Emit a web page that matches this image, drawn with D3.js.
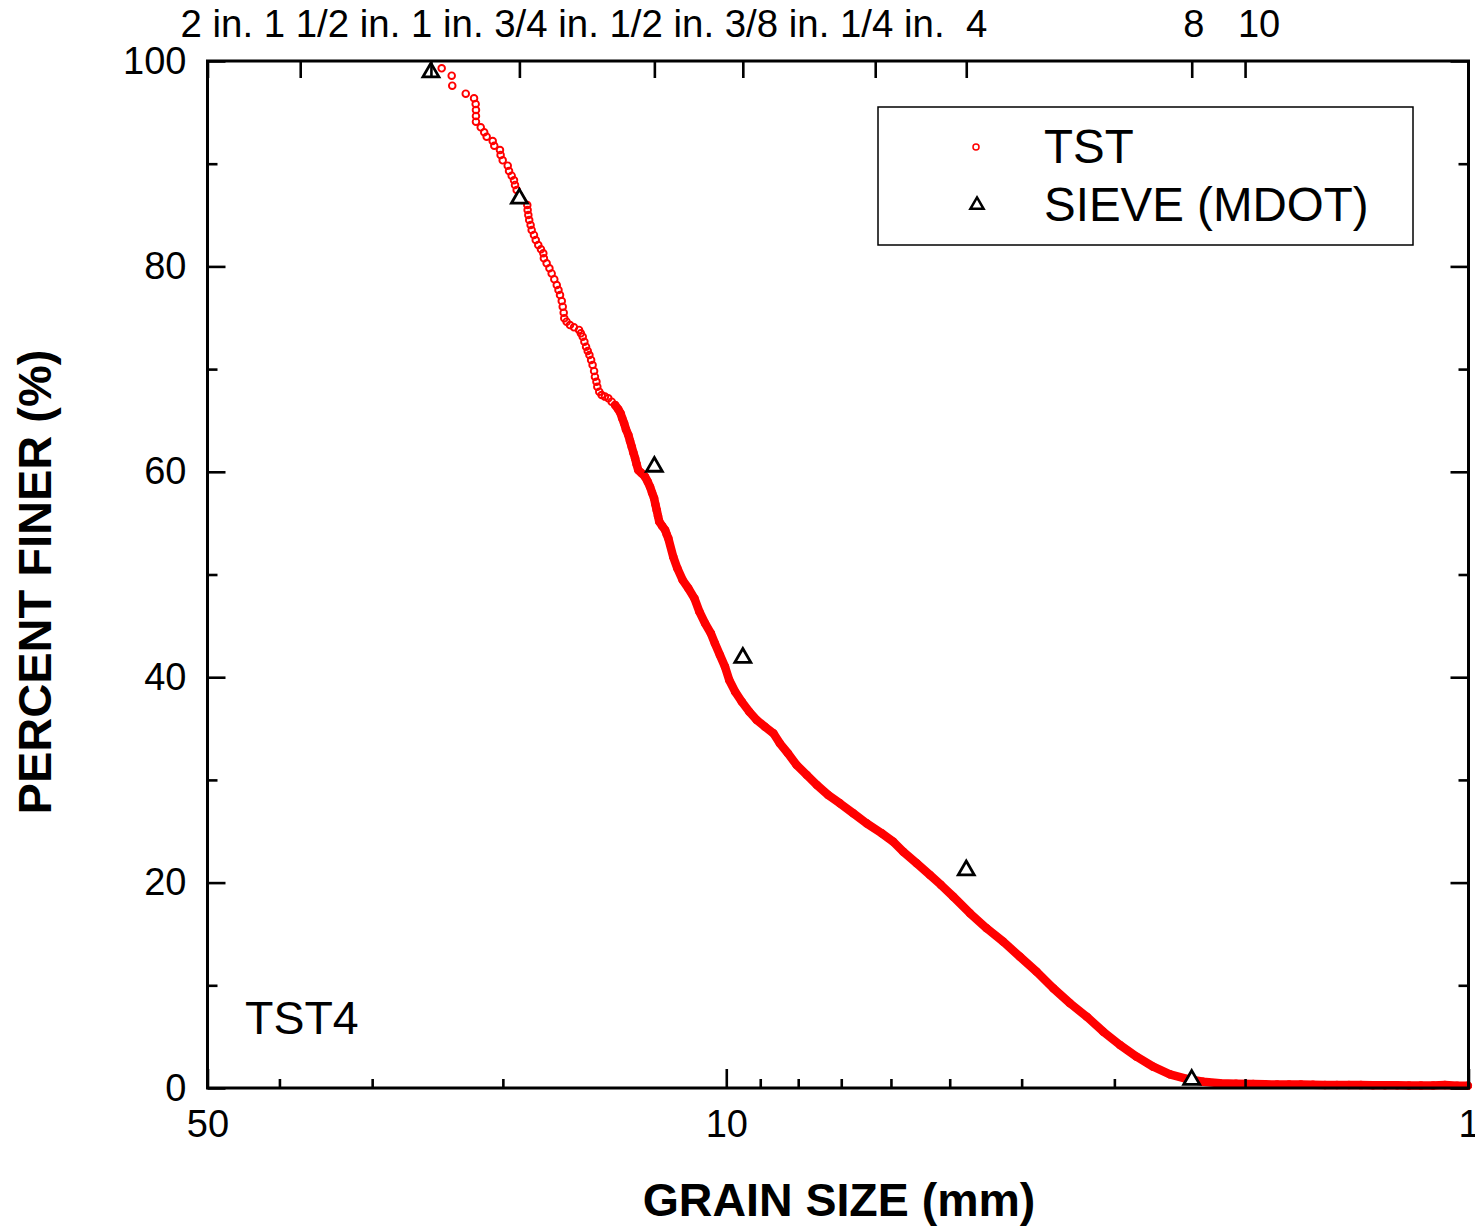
<!DOCTYPE html>
<html><head><meta charset="utf-8">
<script src="https://cdn.jsdelivr.net/npm/d3@7"></script>
<style>
body{margin:0;background:#fff;}
svg text{font-family:"Liberation Sans",Arial,Helvetica,sans-serif;fill:#000;}
</style></head><body>
<svg id="chart" width="1475" height="1229"></svg>
<script>
// ---------------- data ----------------
const tstSize = [24.18,23.44,23.40,22.44,21.87,21.76,21.74,21.74,21.74,21.42,21.19,21.03,20.64,20.54,20.18,20.14,20.01,19.70,19.62,19.46,19.32,19.26,19.16,19.02,18.85,18.54,18.52,18.48,18.43,18.35,18.29,18.16,18.06,17.92,17.77,17.64,
17.61,17.46,17.31,17.19,17.05,16.92,16.83,16.75,16.66,16.61,16.56,16.53,16.41,16.24,16.04,15.79,15.70,15.61,15.53,15.45,15.37,15.29,15.21,15.14,15.07,15.03,14.96,14.92,14.83,14.72,14.57,14.42,14.27,14.12,13.98,13.88,13.81,13.73,13.65,13.55,13.48,13.41,13.34,13.27,13.21,13.14,13.00,12.87,12.76,12.67,12.59,12.51,12.46,12.41,12.36,12.31,12.20,12.09,12.03,11.97,
11.79,11.64,11.45,11.25,11.04,10.87,10.68,10.49,10.36,10.20,10.04,9.91,9.73,9.53,9.31,9.10,8.87,8.64,8.47,8.26,
8.04,7.79,7.55,7.29,7.03,6.745,6.47,6.175,5.957,5.775,5.540,5.316,5.137,
4.945,4.695,4.459,4.235,4.021,3.818,3.626,3.443,3.268,3.105,2.948,2.800,2.659,2.525,2.397,2.277,2.162,2.057,1.950,
1.880,1.811,1.745,1.682,1.620,1.561,1.504,1.449,1.396,1.345,1.296,1.248,1.203,1.159,1.116,1.076,1.036,1.002];
const tstFiner = [99.29,98.57,97.60,96.82,96.37,95.81,95.23,94.64,94.09,93.54,93.06,92.63,92.21,91.75,91.33,90.85,90.33,89.81,89.29,88.83,88.38,87.93,87.44,86.95,86.46,85.98,85.49,85.00,84.52,84.03,83.54,83.06,82.57,82.08,81.66,81.28,
80.79,80.30,79.81,79.32,78.74,78.19,77.70,77.21,76.63,76.08,75.49,74.94,74.62,74.29,74.07,73.81,73.48,73.16,72.67,72.18,71.76,71.37,70.89,70.40,69.81,69.26,68.78,68.29,67.80,67.48,67.32,67.15,66.83,66.50,66.08,65.69,65.21,64.72,64.13,63.58,63.00,62.45,61.86,61.31,60.76,60.17,59.85,59.53,59.04,58.55,57.97,57.42,56.83,56.28,55.70,55.14,54.72,54.33,53.91,53.52,
51.73,50.60,49.46,48.66,47.68,46.38,45.25,44.27,43.30,42.16,41.02,39.73,38.59,37.61,36.64,35.83,35.18,34.54,33.56,32.59,
31.45,30.48,29.50,28.53,27.72,26.75,25.77,24.80,23.98,23.01,21.88,20.74,19.77,
18.63,17.01,15.55,14.25,12.78,11.32,9.71,8.25,6.94,5.48,4.19,3.05,2.07,1.33,0.88,0.61,0.46,0.42,0.39,
0.36,0.34,0.33,0.33,0.31,0.30,0.30,0.29,0.28,0.27,0.27,0.26,0.25,0.25,0.24,0.30,0.22,0.22];

const sieveSize  = [25, 19, 12.5, 9.5, 4.75, 2.36];
const sieveFiner = [98.9, 86.6, 60.5, 41.9, 21.2, 0.8];

const topTickSizes  = [50, 37.5, 25, 19, 12.5, 9.5, 6.3, 4.75, 2.36, 2.0];
const topTickLabels = ["2 in.", "1 1/2 in.", "1 in.", "3/4 in.", "1/2 in.", "3/8 in.", "1/4 in.", " 4", "8", "10"];
const xMajorTicks = [50, 10, 1];
const xMinorTicks = [40, 30, 20, 9, 8, 7, 6, 5, 4, 3, 2];
const yMajorTicks = [0, 20, 40, 60, 80, 100];
const yMinorTicks = [10, 30, 50, 70, 90];
const seriesNames = ["TST", "SIEVE (MDOT)"];
const sampleLabel = "TST4";
const xTitle = "GRAIN SIZE (mm)";
const yTitle = "PERCENT FINER (%)";

// ---------------- layout ----------------
const L = 207.5, R = 1468.5, T = 61, B = 1088;
const flowCount = 8;               // first labels are typed as one flowing line
const flowDx = -27;                // start of that line relative to the 2 in. tick
const sepDx = [2, 14];             // "8" and "10" offsets from their ticks
const bandMaxFiner = 66.5;

const svg = d3.select("#chart");
const x = d3.scaleLog().domain([50, 1]).range([L, R]);
const y = d3.scaleLinear().domain([0, 100]).range([B, T]);

const tst = tstSize.map((s, i) => ({s, p: tstFiner[i]}));
const sieve = sieveSize.map((s, i) => ({s, p: sieveFiner[i]}));

// dense part of the TST cloud: overlapping markers form a solid band
const band = tst.filter(d => d.p <= bandMaxFiner);
svg.append("path")
  .attr("d", d3.line().x(d => x(d.s)).y(d => y(d.p))(band))
  .attr("fill", "none").attr("stroke", "#ff0000").attr("stroke-width", 8.5)
  .attr("stroke-linejoin", "round").attr("stroke-linecap", "round");

svg.append("g").selectAll("circle").data(tst).join("circle")
  .attr("cx", d => x(d.s)).attr("cy", d => y(d.p)).attr("r", 3.3)
  .attr("fill", "none").attr("stroke", "#ff0000").attr("stroke-width", 1.9);

const tri = d3.symbol().type(d3.symbolTriangle).size(110);
svg.append("g").selectAll("path").data(sieve).join("path")
  .attr("d", tri).attr("transform", d => `translate(${x(d.s)},${y(d.p)})`)
  .attr("fill", "#fff").attr("stroke", "#000").attr("stroke-width", 2.8);

// ---------------- axes ----------------
function styleAxis(g, fs) {
  g.selectAll(".domain").remove();
  g.selectAll(".tick line").attr("stroke", "#000").attr("stroke-width", 2.6);
  g.selectAll(".tick text").attr("font-size", fs).attr("fill", "#000")
    .attr("font-family", '"Liberation Sans",Arial,sans-serif');
}
svg.append("g").attr("transform", `translate(${L},0)`)
  .call(d3.axisLeft(y).tickValues(yMajorTicks).tickSize(-18).tickPadding(21))
  .call(g => styleAxis(g, 38));
svg.append("g").attr("transform", `translate(${L},0)`)
  .call(d3.axisLeft(y).tickValues(yMinorTicks).tickSize(-10).tickFormat(""))
  .call(g => styleAxis(g, 38));
svg.append("g").attr("transform", `translate(${R},0)`)
  .call(d3.axisRight(y).tickValues(yMajorTicks).tickSize(-18).tickFormat(""))
  .call(g => styleAxis(g, 38));
svg.append("g").attr("transform", `translate(${R},0)`)
  .call(d3.axisRight(y).tickValues(yMinorTicks).tickSize(-10).tickFormat(""))
  .call(g => styleAxis(g, 38));
svg.append("g").attr("transform", `translate(0,${B})`)
  .call(d3.axisBottom(x).tickValues(xMajorTicks).tickSize(-19).tickPadding(22).tickFormat(d3.format("d")))
  .call(g => styleAxis(g, 38));
svg.append("g").attr("transform", `translate(0,${B})`)
  .call(d3.axisBottom(x).tickValues(xMinorTicks).tickSize(-9).tickFormat(""))
  .call(g => styleAxis(g, 38));
svg.append("g").attr("transform", `translate(0,${T})`)
  .call(d3.axisTop(x).tickValues(topTickSizes).tickSize(-17).tickFormat(""))
  .call(g => styleAxis(g, 38));

// top sieve labels: a flowing line for the inch sizes, then the sieve numbers
svg.append("text").attr("x", x(topTickSizes[0]) + flowDx).attr("y", 37)
  .attr("font-size", 38.4).attr("xml:space", "preserve").style("white-space", "pre")
  .text(topTickLabels.slice(0, flowCount).join(" "));
svg.append("g").selectAll("text").data(topTickSizes.slice(flowCount)).join("text")
  .attr("x", (d, i) => x(d) + sepDx[i]).attr("y", 37)
  .attr("text-anchor", "middle").attr("font-size", 38)
  .text((d, i) => topTickLabels[flowCount + i]);

// frame
svg.append("rect").attr("x", L).attr("y", T).attr("width", R - L).attr("height", B - T)
  .attr("fill", "none").attr("stroke", "#000").attr("stroke-width", 3);

// titles
svg.append("text").attr("x", 839).attr("y", 1216).attr("text-anchor", "middle")
  .attr("font-size", 46.5).attr("font-weight", "bold").text(xTitle);
svg.append("text").attr("transform", "translate(51,582) rotate(-90)").attr("text-anchor", "middle")
  .attr("font-size", 47).attr("font-weight", "bold").text(yTitle);
svg.append("text").attr("x", 245).attr("y", 1034).attr("font-size", 46.5).text(sampleLabel);

// legend
const lg = svg.append("g");
lg.append("rect").attr("x", 878).attr("y", 107).attr("width", 535).attr("height", 138)
  .attr("fill", "#fff").attr("stroke", "#000").attr("stroke-width", 1.5);
lg.append("circle").attr("cx", 976).attr("cy", 147).attr("r", 3)
  .attr("fill", "none").attr("stroke", "#ff0000").attr("stroke-width", 1.5);
lg.append("path").attr("d", d3.symbol().type(d3.symbolTriangle).size(75)())
  .attr("transform", "translate(977,205)")
  .attr("fill", "#fff").attr("stroke", "#000").attr("stroke-width", 2.5);
lg.selectAll("text").data(seriesNames).join("text")
  .attr("x", 1044).attr("y", (d, i) => 163 + i * 58).attr("font-size", 47.5).text(d => d);
</script>
</body></html>
